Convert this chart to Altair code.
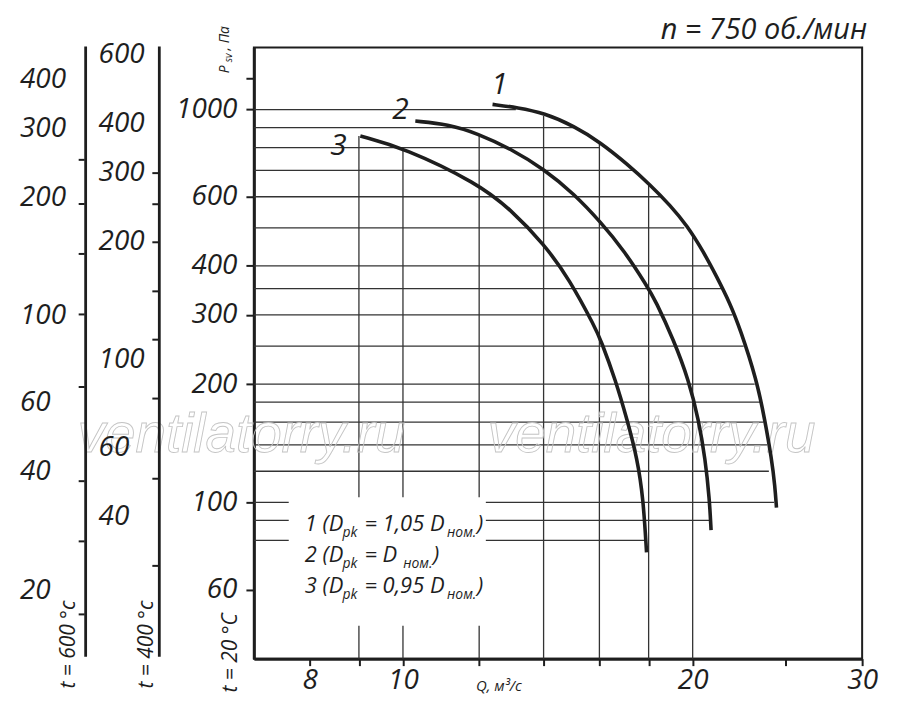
import altair as alt
import pandas as pd

# ---------------- data ----------------
curve_names = ["1", "2", "3"]
curve1_q = [12.39, 13.16, 14.02, 15.06, 16.05, 17.10, 18.06, 18.96, 19.73, 20.53, 21.19, 21.87, 22.40, 23.31, 23.77, 24.16, 24.35, 24.44]
curve1_p = [1031, 1012, 980, 908, 824, 727, 644, 570, 507, 434, 375, 321, 277, 205, 162, 129, 110, 97]
curve2_q = [10.30, 11.14, 11.96, 12.95, 14.02, 15.06, 16.05, 16.97, 17.95, 18.29, 19.11, 19.81, 20.29, 20.61, 20.82, 20.90]
curve2_p = [935, 918, 869, 794, 705, 610, 517, 438, 354, 327, 259, 205, 162, 129, 102, 85]
curve3_q = [9.03, 10.03, 11.96, 12.95, 14.02, 14.89, 15.86, 16.05, 16.63, 17.10, 17.52, 17.77, 17.91]
curve3_p = [857, 799, 649, 556, 454, 370, 277, 259, 205, 162, 129, 102, 74.6]

hgrid_p = [1000, 900, 800, 700, 600, 500, 400, 350, 300, 250, 200, 180, 160, 140, 120, 100, 90, 80]
hgrid_end_q = [13.1, 15.1, 16.0, 17.4, 18.5, 19.6, 20.8, 21.4, 22.0, 22.6, 23.2, 23.5, 23.7, 23.9, 24.0, 24.3, 20.8, 17.9]
vgrid_q = [9, 10, 12, 14, 16, 18, 20]
vgrid_top_p = [857, 799, 857, 963, 818, 647, 484]

x_ticks = [8, 9, 10, 12, 14, 16, 18, 20, 25, 30]
x_labels = [8, 10, 20, 30]
y_ticks = [60, 100, 200, 300, 400, 600, 1000, 1200]
y_labels = [60, 100, 200, 300, 400, 600, 1000]

base_temp = 20
t600 = 600
t600_labels = [400, 300, 200, 100, 60, 40, 20]
t600_ticks = [250, 193, 144, 101, 66, 38, 26.7, 17.4]
t400 = 400
t400_labels = [600, 400, 300, 200, 100, 60, 40]
t400_ticks = [300, 250, 200, 150, 113, 80, 50, 30]

legend_ids = ["1", "2", "3"]
legend_coefs = ["1,05 ", "", "0,95 "]

title_text = "n = 750 об./мин"
x_title = "Q, м³/с"
watermark = "ventilatorry.ru"

# ---------------- helpers ----------------
FONT = "Open Sans"
INK = "#1e1e1e"
GRID = "#333333"

xs = alt.Scale(type="log", domain=[7, 30], nice=False)
ys = alt.Scale(type="log", domain=[40, 1440], nice=False)

x_axis = alt.Axis(
    title=None, values=x_ticks,
    labelExpr=f"indexof({x_labels}, datum.value) >= 0 ? '' + datum.value : ''",
    tickSize=7, labelPadding=1, labelOverlap=False, labelFlush=False,
)
y_axis = alt.Axis(
    title=None, values=y_ticks,
    labelExpr=f"indexof({y_labels}, datum.value) >= 0 ? '' + datum.value : ''",
    tickSize=8, labelPadding=9, labelOverlap=False, labelFlush=False,
)


def X(f):
    return alt.X(f, type="quantitative", scale=xs, axis=x_axis)


def Y(f):
    return alt.Y(f, type="quantitative", scale=ys, axis=y_axis)


def one(d=None):
    return alt.Data(values=[d or {"t": ""}])


def txt(s, x, y, size, align="left", baseline="alphabetic", angle=0, font=FONT):
    kw = dict(align=align, baseline=baseline, font=font, fontStyle="italic",
              fontSize=size, color=INK)
    if angle:
        kw["angle"] = angle
    return alt.Chart(one({"t": s})).mark_text(**kw).encode(
        x=alt.value(x), y=alt.value(y), text="t:N")


layers = []

# grid
hdf = pd.DataFrame({"P": hgrid_p, "Q0": 7, "Q1": hgrid_end_q})
layers.append(alt.Chart(hdf).mark_rule(color=GRID, strokeWidth=1.3).encode(
    x=X("Q0:Q"), x2="Q1:Q", y=Y("P:Q")))
vdf = pd.DataFrame({"Q": vgrid_q, "P0": 40, "P1": vgrid_top_p})
layers.append(alt.Chart(vdf).mark_rule(color=GRID, strokeWidth=1.3).encode(
    x=X("Q:Q"), y=Y("P0:Q"), y2="P1:Q"))

# white box behind legend text
layers.append(alt.Chart(one()).mark_rect(fill="white").encode(
    x=alt.value(35), x2=alt.value(233), y=alt.value(452), y2=alt.value(581)))

# watermark
for wx in (-177, 235):
    layers.append(alt.Chart(one({"t": watermark})).mark_text(
        align="left", baseline="alphabetic", font="Liberation Sans", fontStyle="italic",
        fontSize=55, fillOpacity=0, stroke="#c4c4c4", strokeWidth=0.9
    ).encode(x=alt.value(wx), y=alt.value(406), text="t:N"))

# curves
cdf = pd.concat([
    pd.DataFrame({"Q": q, "P": p, "curve": n, "i": range(len(q))})
    for n, q, p in zip(curve_names, [curve1_q, curve2_q, curve3_q], [curve1_p, curve2_p, curve3_p])
])
layers.append(alt.Chart(cdf).mark_line(color=INK, strokeWidth=3.6, interpolate="basis").encode(
    x=X("Q:Q"), y=Y("P:Q"), detail="curve:N", order="i:Q"))

# curve numbers, anchored at each curve's first point
offsets = {"1": (7, -19), "2": (-15, -11), "3": (-22, 10)}
for n, q, p in zip(curve_names, [curve1_q, curve2_q, curve3_q], [curve1_p, curve2_p, curve3_p]):
    dx, dy = offsets[n]
    layers.append(alt.Chart(pd.DataFrame({"Q": [q[0]], "P": [p[0]], "t": [n]})).mark_text(
        align="center", baseline="middle", font=FONT, fontStyle="italic", fontSize=30,
        color=INK, dx=dx, dy=dy).encode(x=X("Q:Q"), y=Y("P:Q"), text="t:N"))

# side temperature scales (same pressure scale via density ratio)
def side_scale(temp, labels, ticks, line_x, label_x):
    k = (273 + base_temp) / (273 + temp)
    out = []
    out.append(alt.Chart(one()).mark_rule(color=INK, strokeWidth=2.8).encode(
        x=alt.value(line_x), y=alt.value(-1), y2=alt.value(612)))
    tdf = pd.DataFrame({"P": [v / k for v in ticks]})
    out.append(alt.Chart(tdf).mark_rule(color=INK, strokeWidth=2).encode(
        x=alt.value(line_x - 7), x2=alt.value(line_x - 1), y=Y("P:Q")))
    ldf = pd.DataFrame({"P": [v / k for v in labels], "t": [str(v) for v in labels]})
    out.append(alt.Chart(ldf).mark_text(
        align="left", baseline="middle", font=FONT, fontStyle="italic", fontSize=28,
        color=INK).encode(x=alt.value(label_x), y=Y("P:Q"), text="t:N"))
    return out

layers += side_scale(t600, t600_labels, t600_ticks, -169, -235)
layers += side_scale(t400, t400_labels, t400_ticks, -95, -156)

# rotated temperature captions
layers.append(txt(f"t = {t600} °c", -180, 644, 21, angle=270))
layers.append(txt(f"t = {t400} °c", -101, 644, 21, angle=270))
layers.append(txt(f"t = {base_temp} °C", -17, 648, 21, angle=270))

# y-axis caption P_sv, Па
layers.append(txt("P", -25, 26, 14, angle=270))
layers.append(txt("sv", -22, 15, 10, angle=270))
layers.append(txt(", Па", -25, 3, 14, angle=270))

# x caption and title
layers.append(txt(x_title, 223, 646, 15))
layers.append(txt(title_text, 616, -8, 29, align="right"))

# legend text with subscripts
for i, (lid, coef) in enumerate(zip(legend_ids, legend_coefs)):
    base = 486 + 31 * i
    sx = 194 if coef else 150
    layers.append(txt(f"{lid} (D", 51, base, 22))
    layers.append(txt("pk", 89, base + 6, 14))
    layers.append(txt(f"= {coef}D", 111, base, 22))
    layers.append(txt("ном.", sx, base + 6, 14))
    layers.append(txt(")", sx + 30, base, 22))

chart = alt.layer(*layers).properties(
    width=611, height=614,
    padding={"left": 247, "top": 38, "right": 30, "bottom": 50},
    autosize=alt.AutoSizeParams(type="none"),
).configure_view(stroke=INK, strokeWidth=2).configure_axis(
    domainColor=INK, domainWidth=3, tickColor=INK, tickWidth=2,
    labelColor=INK, labelFont=FONT, labelFontStyle="italic", labelFontSize=28, grid=False,
)

chart.save("out.html", embed_options={"renderer": "svg", "actions": False})
